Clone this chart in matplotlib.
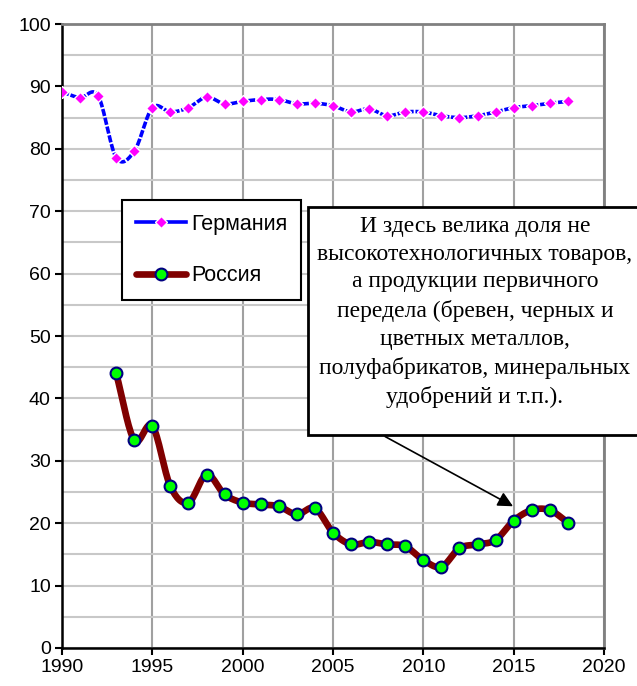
"""Доля товаров в экспорте: Германия и Россия, 1990-2018."""

import matplotlib.pyplot as plt
import numpy as np
from matplotlib.patches import Rectangle

plt.rcParams["font.family"] = ["Liberation Sans", "DejaVu Sans"]

years_de = list(range(1990, 2019))
share_de = [89.1, 88.2, 88.5, 78.6, 79.6, 86.6, 85.9, 86.6, 88.3, 87.2,
            87.6, 87.9, 87.9, 87.2, 87.3, 86.9, 85.9, 86.4, 85.3, 85.9,
            85.9, 85.3, 85.0, 85.3, 85.9, 86.6, 86.9, 87.3, 87.6]

years_ru = list(range(1993, 2019))
share_ru = [44.0, 33.3, 35.6, 25.9, 23.3, 27.8, 24.6, 23.3, 23.0, 22.7,
            21.4, 22.4, 18.5, 16.6, 17.0, 16.6, 16.3, 14.1, 13.0, 16.0,
            16.6, 17.3, 20.4, 22.1, 22.1, 20.1]

note_text = ("И здесь велика доля не\n"
             "высокотехнологичных товаров,\n"
             "а продукции первичного\n"
             "передела (бревен, черных и\n"
             "цветных металлов,\n"
             "полуфабрикатов, минеральных\n"
             "удобрений и т.п.).")


def smooth_line(x, y, steps=16):
    """Сглаженная линия через точки (Catmull-Rom), как в Excel."""
    x = np.asarray(x, dtype=float)
    y = np.asarray(y, dtype=float)
    px = np.concatenate([[2 * x[0] - x[1]], x, [2 * x[-1] - x[-2]]])
    py = np.concatenate([[2 * y[0] - y[1]], y, [2 * y[-1] - y[-2]]])
    xs, ys = [], []
    t = np.linspace(0, 1, steps, endpoint=False)
    for i in range(1, len(px) - 2):
        for arr, out in ((px, xs), (py, ys)):
            p0, p1, p2, p3 = arr[i - 1], arr[i], arr[i + 1], arr[i + 2]
            out.extend(0.5 * (2 * p1 + (-p0 + p2) * t
                              + (2 * p0 - 5 * p1 + 4 * p2 - p3) * t ** 2
                              + (-p0 + 3 * p1 - 3 * p2 + p3) * t ** 3))
    xs.append(x[-1])
    ys.append(y[-1])
    return xs, ys


fig = plt.figure(figsize=(6.37, 6.86), dpi=100)
ax = fig.add_axes([0.0973, 0.0554, 0.8509, 0.9096])

# Германия: синяя штриховая линия с розовыми ромбами
sx, sy = smooth_line(years_de, share_de)
ax.plot(sx, sy, color="#0000FF", linewidth=2.6, dashes=(2.0, 0.5), zorder=3)
ax.plot(years_de, share_de, linestyle="none", marker="D", markersize=6.5,
        markerfacecolor="#FF00FF", markeredgecolor="white",
        markeredgewidth=1.0, zorder=4)

# Россия: тёмно-красная линия с зелёными кружками
sx, sy = smooth_line(years_ru, share_ru)
ax.plot(sx, sy, color="#800000", linewidth=4.8, solid_capstyle="round",
        zorder=3)
ax.plot(years_ru, share_ru, linestyle="none", marker="o", markersize=8.5,
        markerfacecolor="#00FF00", markeredgecolor="#000080",
        markeredgewidth=1.5, zorder=4)

# Элементы для легенды
h_de, = ax.plot([], [], color="#0000FF", linewidth=2.6, marker="D",
                markersize=6.5, markerfacecolor="#FF00FF",
                markeredgecolor="white", label="Германия")
h_ru, = ax.plot([], [], color="#800000", linewidth=4.8, marker="o",
                markersize=8.5, markerfacecolor="#00FF00",
                markeredgecolor="#000080", markeredgewidth=1.5,
                solid_capstyle="round", label="Россия")

ax.set_xlim(1990, 2020)
ax.set_ylim(0, 100)
ax.set_xticks(range(1990, 2021, 5))
ax.set_yticks(range(0, 101, 10))
ax.set_yticks(range(5, 100, 10), minor=True)

ax.grid(axis="x", color="#A0A0A0", linewidth=1.5)
ax.grid(axis="y", which="both", color="#C8C8C8", linewidth=1.5)
ax.set_axisbelow(True)

for side in ("top", "right"):
    ax.spines[side].set_color("#808080")
    ax.spines[side].set_linewidth(2)
for side in ("left", "bottom"):
    ax.spines[side].set_color("black")
    ax.spines[side].set_linewidth(1.8)

ax.tick_params(axis="both", which="major", labelsize=14, length=5,
               width=1.5, direction="out", pad=3)
ax.tick_params(axis="y", which="minor", length=0)

leg = ax.legend(handles=[h_de, h_ru], loc="upper left",
                bbox_to_anchor=(0.111, 0.718), borderaxespad=0,
                fontsize=15.5, handlelength=2.3, labelspacing=1.4,
                handletextpad=0.25, borderpad=0.65, fancybox=False,
                framealpha=1, edgecolor="black")
leg.get_frame().set_linewidth(1.5)

# Поясняющая рамка с текстом
box = Rectangle((308 / 637, 1 - 435 / 686), 340 / 637, 228 / 686,
                transform=fig.transFigure, facecolor="white",
                edgecolor="black", linewidth=2, zorder=5, clip_on=False)
fig.add_artist(box)
fig.text(475 / 637, 1 - 312 / 686, note_text, ha="center", va="center",
         family=["Liberation Serif", "DejaVu Serif"], fontsize=17,
         linespacing=1.43, zorder=6)

ax.annotate("", xy=(2015.1, 22.5), xytext=(2007.75, 34.1),
            arrowprops={"arrowstyle": "-|>,head_length=0.9,head_width=0.45",
                        "color": "black", "linewidth": 1.2},
            zorder=6)

fig.savefig("out.png", dpi=100)
